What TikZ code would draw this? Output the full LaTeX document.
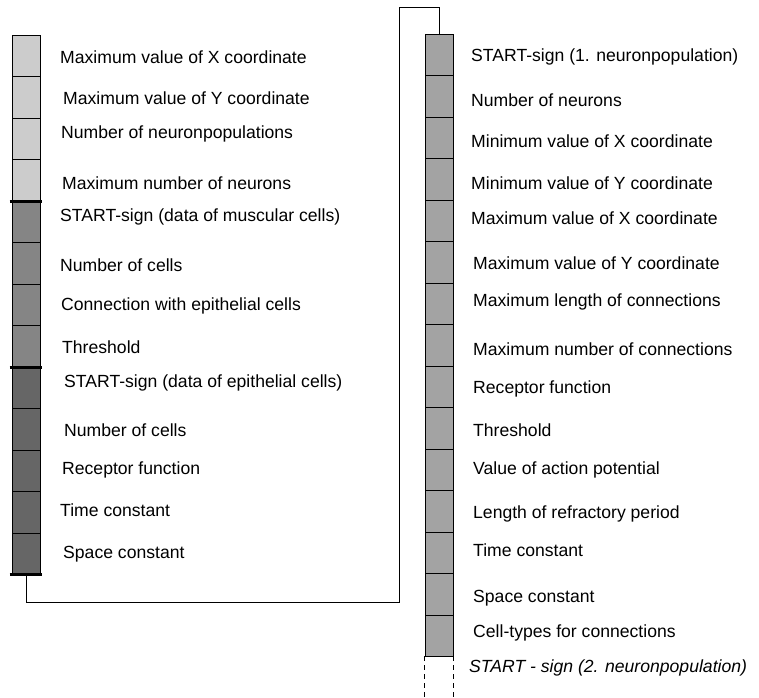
\documentclass[tikz,border=0pt]{standalone}
\usepackage{fontspec}
\setmainfont{Liberation Sans}
\usetikzlibrary{positioning}
\tikzstyle{cell} = [rectangle, minimum width=28pt, minimum height=41.5pt, inner sep=0pt, draw=black, line width=0.8pt]
\tikzstyle{lightcell} = [cell, fill=black!20]
\tikzstyle{midcell} = [cell, fill=black!48]
\tikzstyle{darkcell} = [cell, fill=black!60]
\tikzstyle{gridcell} = [cell, fill=black!36]
\tikzstyle{emptycell} = [rectangle, minimum width=28pt, minimum height=41.5pt, inner sep=0pt]
\tikzstyle{entry} = [anchor=west, inner sep=0pt, font=\fontsize{17.6}{20}\selectfont]
\tikzstyle{bar} = [line width=3pt]
\tikzstyle{link} = [line width=0.8pt]

\begin{document}
\begin{tikzpicture}[x=1pt, y=-1pt, node distance=41.5pt]
    \useasboundingbox (0,0) rectangle (759,697);
    % Left column
    \node (l1) [lightcell] at (26,55.75) {};
    \node (l2) [lightcell, below of=l1] {};
    \node (l3) [lightcell, below of=l2] {};
    \node (l4) [lightcell, below of=l3] {};
    \node (l5) [midcell, below of=l4] {};
    \node (l6) [midcell, below of=l5] {};
    \node (l7) [midcell, below of=l6] {};
    \node (l8) [midcell, below of=l7] {};
    \node (l9) [darkcell, below of=l8] {};
    \node (l10) [darkcell, below of=l9] {};
    \node (l11) [darkcell, below of=l10] {};
    \node (l12) [darkcell, below of=l11] {};
    \node (l13) [darkcell, below of=l12] {};
    \draw [bar] ([xshift=-2pt]l4.south west) -- ([xshift=2pt]l4.south east);
    \draw [bar] ([xshift=-2pt]l8.south west) -- ([xshift=2pt]l8.south east);
    \draw [bar] ([xshift=-2pt]l13.south west) -- ([xshift=2pt]l13.south east);

    % Right column
    \node (r1) [gridcell] at (439,54.75) {};
    \node (r2) [gridcell, below of=r1] {};
    \node (r3) [gridcell, below of=r2] {};
    \node (r4) [gridcell, below of=r3] {};
    \node (r5) [gridcell, below of=r4] {};
    \node (r6) [gridcell, below of=r5] {};
    \node (r7) [gridcell, below of=r6] {};
    \node (r8) [gridcell, below of=r7] {};
    \node (r9) [gridcell, below of=r8] {};
    \node (r10) [gridcell, below of=r9] {};
    \node (r11) [gridcell, below of=r10] {};
    \node (r12) [gridcell, below of=r11] {};
    \node (r13) [gridcell, below of=r12] {};
    \node (r14) [gridcell, below of=r13] {};
    \node (r15) [gridcell, below of=r14] {};
    \node (r16) [emptycell, below of=r15] {};
    \draw [link, dash pattern=on 5pt off 4pt] (r16.north west) -- (r16.south west);
    \draw [link, dash pattern=on 5pt off 4pt] (r16.north east) -- (r16.south east);

    % Left texts
    \node (a1) [entry] at (60,57) {Maximum value of X coordinate};
    \node (a2) [entry] at (63,98) {Maximum value of Y coordinate};
    \node (a3) [entry] at (61,134) {Number of neuronpopulations};
    \node (a4) [entry] at (62,183) {Maximum number of neurons};
    \node (a5) [entry] at (60,217) {START-sign (data of muscular cells)};
    \node (a6) [entry] at (60,265) {Number of cells};
    \node (a7) [entry] at (61,306) {Connection with epithelial cells};
    \node (a8) [entry] at (62,347) {Threshold};
    \node (a9) [entry] at (64,383) {START-sign (data of epithelial cells)};
    \node (a10) [entry] at (64,430) {Number of cells};
    \node (a11) [entry] at (62,470) {Receptor function};
    \node (a12) [entry] at (60,510) {Time constant};
    \node (a13) [entry] at (63,554) {Space constant};

    % Right texts
    \node (b1) [entry] at (471,57) {START-sign (1. neuronpopulation)};
    \node (b2) [entry] at (471,100) {Number of neurons};
    \node (b3) [entry] at (471,141) {Minimum value of X coordinate};
    \node (b4) [entry] at (471,183) {Minimum value of Y coordinate};
    \node (b5) [entry] at (471,218) {Maximum value of X coordinate};
    \node (b6) [entry] at (473,263) {Maximum value of Y coordinate};
    \node (b7) [entry] at (473,302) {Maximum length of connections};
    \node (b8) [entry] at (473,349) {Maximum number of connections};
    \node (b9) [entry] at (473,389) {Receptor function};
    \node (b10) [entry] at (473,430) {Threshold};
    \node (b11) [entry] at (473,470) {Value of action potential};
    \node (b12) [entry] at (473,514) {Length of refractory period};
    \node (b13) [entry] at (473,550) {Time constant};
    \node (b14) [entry] at (473,598) {Space constant};
    \node (b15) [entry] at (473,633) {Cell-types for connections};
    \node (b16) [entry, font=\fontsize{17.6}{20}\selectfont\itshape] at (469,668) {START - sign (2. neuronpopulation)};

    % Connector
    \coordinate (c1) at (399,602);
    \coordinate (c2) at (399,7);
    \draw [link] (l13.south) |- (c1) -- (c2) -| (r1.north);
\end{tikzpicture}
\end{document}
